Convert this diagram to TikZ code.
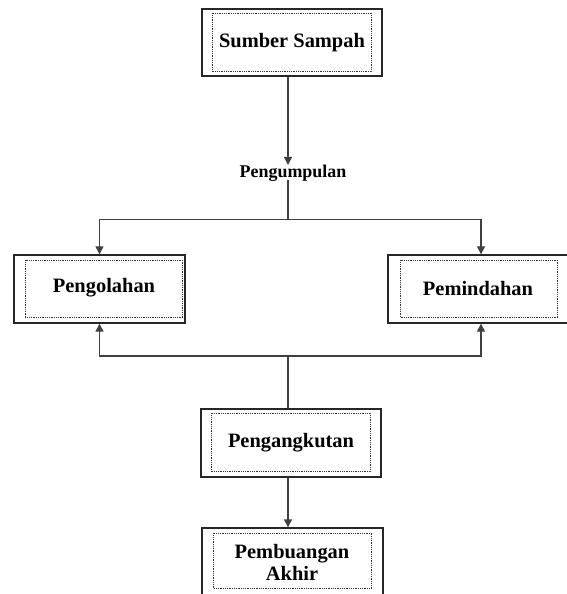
\documentclass[tikz,border=0pt]{standalone}
\usepackage{fontspec}
\setmainfont{Liberation Serif}
\usetikzlibrary{arrows.meta}
\tikzset{
  outerbox/.style={draw=black!85, line width=1.4bp, rectangle, inner sep=0pt,
    font=\fontsize{20.5}{21}\selectfont\bfseries},
  innerbox/.style={draw=black!80, line width=0.9bp, dash pattern=on 0.9bp off 0.9bp},
  lbl/.style={inner sep=0pt, font=\fontsize{18}{20}\selectfont\bfseries},
  txt/.style={inner sep=0pt, font=\fontsize{20.5}{21}\selectfont\bfseries, align=center},
  conn/.style={draw=black!75, line width=1.3bp},
  arr/.style={conn, -{Triangle[length=8bp,width=8bp]}}
}
\begin{document}
\begin{tikzpicture}[x=1bp,y=-1bp]
\useasboundingbox (0,0) rectangle (567,594);
\clip (0,0) rectangle (567,594);
% boxes
\node[outerbox, minimum width=180bp, minimum height=67bp] (src) at (292,42.5) {Sumber Sampah};
\node[outerbox, minimum width=171bp, minimum height=68bp] (proc) at (99.5,289) {};
\node[txt] (proctxt) at (104,288) {Pengolahan};
\node[outerbox, minimum width=180bp, minimum height=68bp] (trf) at (478,289) {Pemindahan};
\node[outerbox, minimum width=180bp, minimum height=68bp] (haul) at (291,443) {Pengangkutan};
\node[outerbox, minimum width=181bp, minimum height=100bp] (dump) at (292.5,578) {};
\node[txt] (dumptxt) at (292,562) {Pembuangan\\[1bp]Akhir};
% inner dotted frames
\draw[innerbox] ([xshift=11bp,yshift=-5bp]src.north west) rectangle ([xshift=-11bp,yshift=5bp]src.south east);
\draw[innerbox] ([xshift=12bp,yshift=-6bp]proc.north west) rectangle ([xshift=-3bp,yshift=6bp]proc.south east);
\draw[innerbox] ([xshift=13bp,yshift=-6bp]trf.north west) rectangle ([xshift=-11bp,yshift=6bp]trf.south east);
\draw[innerbox] ([xshift=11bp,yshift=-5bp]haul.north west) rectangle ([xshift=-11bp,yshift=6bp]haul.south east);
\draw[innerbox] ([xshift=12bp,yshift=-6bp]dump.north west) rectangle ([xshift=-12bp,yshift=-61bp]dump.north east);
% label
\node[lbl] (col) at (293,173) {Pengumpulan};
% connectors
\coordinate (tip1) at (288,165);
\coordinate (below) at (288,180);
\coordinate (s1) at (288,219.5);
\coordinate (s2) at (288,356);
\draw[arr] (src.south -| s1) -- (tip1);
\draw[conn] (below) -- (s1);
\draw[arr] (s1) -| (proc.north);
\draw[arr] (s1) -| ([xshift=3bp]trf.north);
\draw[conn] (haul.north -| s2) -- (s2);
\draw[arr] (s2) -| (proc.south);
\draw[arr] (s2) -| ([xshift=3bp]trf.south);
\draw[arr] (haul.south -| s2) -- (dump.north -| s2);
\end{tikzpicture}
\end{document}
